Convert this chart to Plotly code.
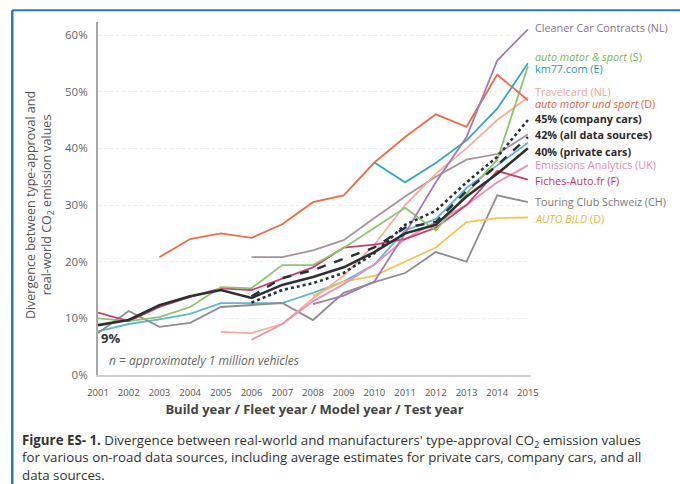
import plotly.graph_objects as go

years = list(range(2001, 2016))

def pad(start, vals):
    # place values starting at year `start`, None before
    return [None] * (start - 2001) + vals

cleaner_car = pad(2008, [12.5, 14.0, 16.5, 25.0, 34.0, 42.0, 55.5, 61.0])
ams_s = pad(2001, [10.0, 9.5, 10.2, 12.0, 15.5, 15.3, 19.4, 19.4, 22.4, 26.0, 29.5, 25.5, 32.0, 38.0, 54.5])
km77 = pad(2010, [37.5, 34.0, 37.4, 41.4, 47.0, 55.0])
travelcard = pad(2005, [7.6, 7.4, 9.0, 13.5, 17.5, 23.0, 30.0, 35.5, 40.0, 45.0, 49.0])
amus_d = pad(2003, [20.8, 24.0, 25.0, 24.2, 26.6, 30.5, 31.7, 37.5, 42.0, 46.0, 43.8, 53.0, 48.5])
company = pad(2006, [12.8, 15.0, 16.2, 18.0, 21.5, 26.5, 29.0, 34.0, 38.5, 45.0])
all_src = pad(2006, [13.9, 17.1, 18.5, 20.5, 22.5, 26.0, 27.0, 32.5, 37.0, 42.0])
private = [8.8, 9.7, 12.3, 13.9, 15.0, 13.6, 15.9, 17.3, 19.0, 21.7, 25.0, 26.5, 31.5, 35.5, 40.0]
emissions = pad(2006, [6.2, 9.0, 13.0, 16.0, 19.5, 24.0, 27.0, 30.0, 34.0, 37.0])
fiches = [11.0, 9.5, 12.0, 13.8, 15.3, 15.0, 17.0, 19.0, 22.5, 23.0, 24.0, 26.0, 30.0, 36.0, 34.5]
tcs = [7.4, 11.3, 8.5, 9.2, 12.0, 12.3, 12.7, 9.7, 14.5, 16.4, 18.0, 21.7, 20.0, 31.7, 30.5]
auto_bild = pad(2008, [14.0, 16.5, 17.5, 20.0, 22.5, 27.0, 27.7, 27.8])
taupe = pad(2006, [20.8, 20.8, 22.0, 23.8, 27.7, 31.5, 35.0, 38.0, 39.0, 42.5])
light_blue = [7.7, 9.0, 9.8, 10.8, 12.7, 12.7, 12.7, 14.5, 16.5, 19.5, 25.5, 27.5, 33.0, 37.0, 41.0]

label_texts = [
    "Cleaner Car Contracts (NL)", "<i>auto motor & sport</i> (S)", "km77.com (E)",
    "Travelcard (NL)", "<i>auto motor und sport</i> (D)", "<b>45% (company cars)</b>",
    "<b>42% (all data sources)</b>", "<b>40% (private cars)</b>", "Emissions Analytics (UK)",
    "Fiches-Auto.fr (F)", "Touring Club Schweiz (CH)", "<i>AUTO BILD</i> (D)",
]
label_y = [61.4, 56.3, 54.1, 50.0, 47.9, 45.3, 42.5, 39.5, 37.1, 34.4, 30.7, 27.7]
label_colors = ["#8a7096", "#7db35a", "#2f9aae", "#f4a48d", "#e65f3f", "#2b2b2b",
                "#2b2b2b", "#2b2b2b", "#e58fb0", "#c8335f", "#7a7a7a", "#f1b53a"]

y_ticks = [0, 10, 20, 30, 40, 50, 60]
y_tick_text = ["0%", "10%", "20%", "30%", "40%", "50%", "60%"]

fig = go.Figure()

def add(vals, color, width=1.8, dash="solid", name=""):
    fig.add_trace(go.Scatter(x=years, y=vals, mode="lines", name=name,
                             line=dict(color=color, width=width, dash=dash),
                             connectgaps=False, showlegend=False, hoverinfo="skip"))

add(taupe, "#a3959b")
add(light_blue, "#63b5d6")
add(tcs, "#8e8e8e")
add(auto_bild, "#f6c453")
add(travelcard, "#f7ad98")
add(emissions, "#ee90b6")
add(fiches, "#d43a6b")
add(ams_s, "#8fc46f")
add(amus_d, "#f06a4b")
add(km77, "#36a8b8")
add(cleaner_car, "#a27bb6")
add(company, "#263238", width=2.6, dash="dot")
add(all_src, "#263238", width=2.4, dash="dash")
add(private, "#2b3133", width=2.6)

font_main = "Open Sans"

for t, yv, c in zip(label_texts, label_y, label_colors):
    fig.add_annotation(x=2015, y=yv, xref="x", yref="y", text=t, showarrow=False,
                       xanchor="left", yanchor="middle", xshift=5,
                       font=dict(family=font_main, size=10.8, color=c))

fig.add_annotation(x=2001, y=6.5, xref="x", yref="y", text="<b>9%</b>", showarrow=False,
                   xanchor="left", xshift=1, font=dict(family=font_main, size=13, color="#333"))
fig.add_annotation(x=2001.3, y=2.6, xref="x", yref="y",
                   text="<i>n = approximately 1 million vehicles</i>", showarrow=False,
                   xanchor="left", font=dict(family=font_main, size=12, color="#666"))

# y-axis title
fig.add_annotation(x=-0.18, y=0.48, xref="paper", yref="paper", textangle=-90,
                   text="Divergence between type-approval and<br>real-world CO<sub>2</sub> emission values",
                   showarrow=False, font=dict(family=font_main, size=12.5, color="#555"))

# caption
caption = ("<b>Figure ES- 1.</b> Divergence between real-world and manufacturers' type-approval CO<sub>2</sub> emission values<br>"
           "for various on-road data sources, including average estimates for private cars, company cars, and all<br>"
           "data sources.")
fig.add_annotation(x=-0.18, y=-0.152, xref="paper", yref="paper", text=caption, showarrow=False,
                   xanchor="left", yanchor="top", align="left",
                   font=dict(family=font_main, size=13.3, color="#333"))

# blue frame
fig.add_shape(type="line", xref="paper", yref="paper", x0=-0.198, x1=1.5, y0=1.033, y1=1.033,
              line=dict(color="#2a77c0", width=2))
fig.add_shape(type="line", xref="paper", yref="paper", x0=-0.198, x1=-0.198, y0=1.033, y1=-0.4,
              line=dict(color="#2a77c0", width=2.5))

fig.update_layout(
    width=680, height=484,
    margin=dict(l=98, r=149, t=22, b=109),
    paper_bgcolor="white", plot_bgcolor="white",
    font=dict(family=font_main),
    xaxis=dict(range=[2001, 2015.1], tickmode="array", tickvals=years,
               ticktext=[str(y) for y in years], showgrid=False, zeroline=False,
               showline=True, linecolor="#d0d0d0", linewidth=2, ticks="",
               tickfont=dict(size=9.5, color="#555"), ticklabelstandoff=8,
               title=dict(text="<b>Build year / Fleet year / Model year / Test year</b>",
                          font=dict(size=13, color="#444"), standoff=6)),
    yaxis=dict(range=[0, 62.3], tickmode="array", tickvals=y_ticks, ticktext=y_tick_text,
               showgrid=True, gridcolor="#ececec", griddash="dot", gridwidth=1,
               zeroline=False, showline=True, linecolor="#a8a8a8", linewidth=2, ticks="",
               tickfont=dict(size=11.5, color="#666"), ticklabelstandoff=6),
)

fig.write_html("out.html")
